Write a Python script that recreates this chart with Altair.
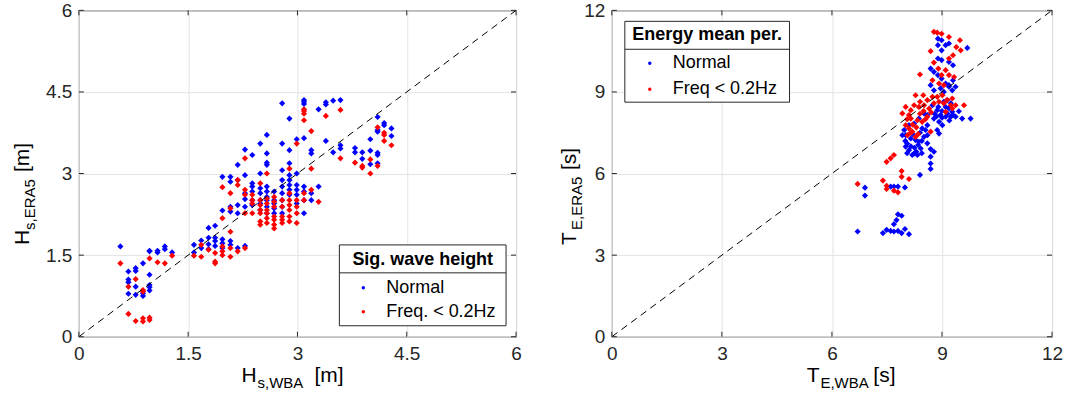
import altair as alt
import pandas as pd

# ---------------- data ----------------
# Left panel: significant wave height, (Hs WBA, Hs ERA5) [m]
hs_normal = [
    (0.57, 1.66), (0.68, 1.20), (0.68, 1.05), (0.68, 1.00), (0.68, 0.79), (0.78, 1.26), (0.78, 1.21),
    (0.78, 0.92), (0.78, 0.77), (0.88, 1.35), (0.88, 0.80), (0.88, 0.75), (0.97, 1.57), (0.97, 1.14),
    (0.97, 0.95), (0.97, 0.91), (0.97, 0.85), (1.08, 1.58), (1.08, 1.55), (1.18, 1.66), (1.18, 1.61),
    (1.28, 1.55), (0.97, 1.58),
    (1.58, 1.69), (1.58, 1.55), (1.68, 1.77), (1.68, 1.63), (1.78, 2.00), (1.78, 1.82), (1.78, 1.70),
    (1.78, 1.61), (1.87, 2.04), (1.87, 1.82), (1.87, 1.76), (1.87, 1.67), (1.97, 1.79), (1.97, 1.72),
    (1.97, 1.63), (2.08, 1.76), (2.08, 1.69), (2.18, 1.63), (2.28, 1.67),
    (1.97, 2.94), (1.97, 2.32), (2.08, 2.94), (2.08, 2.85), (2.08, 2.39), (2.08, 2.30), (2.18, 3.16),
    (2.18, 2.88), (2.18, 2.42), (2.18, 2.27), (2.28, 2.97), (2.28, 2.64), (2.28, 2.53), (2.28, 2.39),
    (2.38, 2.82), (2.38, 2.76), (2.38, 2.67), (2.38, 2.51), (2.38, 2.42), (2.49, 3.00), (2.49, 2.73),
    (2.49, 2.64), (2.49, 2.51), (2.49, 2.33), (2.58, 2.76), (2.58, 2.67), (2.58, 2.57), (2.58, 2.51),
    (2.58, 2.39), (2.58, 2.27), (2.68, 2.67), (2.68, 2.51), (2.68, 2.36), (2.68, 2.27), (2.79, 2.88),
    (2.79, 2.76), (2.79, 2.64), (2.79, 2.39), (2.79, 2.27), (2.89, 2.97), (2.89, 2.88), (2.89, 2.79),
    (2.89, 2.70), (2.89, 2.61), (2.99, 2.79), (2.99, 2.70), (2.99, 2.61), (2.99, 2.45), (3.09, 2.76),
    (3.09, 2.67), (3.09, 2.51), (3.09, 2.27), (3.19, 2.64), (3.19, 2.51), (3.29, 2.76),
    (2.49, 2.45), (2.68, 2.45), (2.79, 2.51),
    (2.28, 3.44), (2.38, 3.34), (2.49, 3.55), (2.58, 3.71), (2.58, 3.37), (2.58, 3.20), (2.58, 3.16),
    (2.79, 4.29), (2.79, 3.55), (2.79, 3.06), (2.89, 4.01), (2.89, 3.43), (2.89, 3.19), (2.99, 3.63),
    (2.99, 3.00), (3.09, 4.35), (3.09, 4.32), (3.09, 4.28), (3.09, 3.65), (3.19, 3.43), (3.19, 3.37),
    (3.29, 4.18), (3.39, 4.31), (3.39, 4.27), (3.39, 3.60), (3.49, 3.39), (3.49, 4.34), (3.59, 4.35),
    (3.59, 3.52), (3.59, 3.46),
    (3.79, 3.47), (3.79, 3.39), (3.89, 3.39), (3.89, 3.27), (4.00, 3.63), (4.00, 3.42), (4.00, 3.17),
    (4.10, 4.04), (4.10, 3.80), (4.10, 3.77), (4.10, 3.38), (4.10, 3.34), (4.10, 3.19), (4.19, 3.93),
    (4.19, 3.89), (4.29, 3.83), (4.29, 3.69),
]
hs_lowfreq = [
    (0.57, 1.35), (0.68, 0.92), (0.78, 1.06), (0.88, 0.86), (0.88, 0.83), (0.97, 1.44), (1.08, 1.37),
    (1.18, 1.35), (1.28, 1.49), (0.68, 0.42), (0.78, 0.29), (0.88, 0.34), (0.88, 0.28), (0.97, 0.35),
    (0.97, 0.31),
    (1.58, 1.49), (1.68, 1.69), (1.68, 1.47), (1.78, 1.60), (1.87, 1.54), (1.87, 1.38), (1.87, 1.35),
    (1.97, 1.66), (1.97, 1.57), (1.97, 1.50), (2.08, 1.93), (2.08, 1.63), (2.08, 1.47), (2.18, 1.57),
    (2.28, 1.63),
    (1.97, 2.75), (1.97, 2.18), (2.08, 2.64), (2.08, 2.36), (2.18, 2.88), (2.18, 2.79), (2.28, 2.70),
    (2.28, 2.61), (2.28, 2.27), (2.38, 2.61), (2.38, 2.51), (2.38, 2.27), (2.49, 2.82), (2.49, 2.51),
    (2.49, 2.42), (2.49, 2.33), (2.49, 2.12), (2.49, 2.06), (2.58, 2.54), (2.58, 2.45), (2.58, 2.33),
    (2.58, 2.18), (2.58, 2.09), (2.68, 2.57), (2.68, 2.48), (2.68, 2.39), (2.68, 2.15), (2.68, 2.06),
    (2.68, 1.99), (2.79, 2.51), (2.79, 2.39), (2.79, 2.21), (2.79, 2.09), (2.89, 2.64), (2.89, 2.51),
    (2.89, 2.42), (2.89, 2.33), (2.89, 2.12), (2.99, 2.51), (2.99, 2.39), (2.99, 2.27), (2.99, 2.09),
    (3.09, 2.64), (3.09, 2.51), (3.19, 2.70), (3.29, 2.48), (2.58, 3.00),
    (2.38, 2.45), (2.49, 2.27), (2.58, 2.27), (2.68, 2.21), (2.79, 2.15), (2.89, 2.21),
    (2.28, 3.28), (2.89, 3.09), (2.99, 3.55), (3.09, 4.18), (3.09, 4.15), (3.09, 4.10), (3.09, 3.98),
    (3.19, 3.78), (3.19, 3.09), (3.39, 4.06), (3.59, 4.17), (3.59, 3.28),
    (3.79, 3.20), (3.89, 3.14), (3.89, 3.11), (4.00, 3.26), (4.00, 3.00), (4.10, 3.85), (4.10, 3.14),
    (4.19, 3.75), (4.19, 3.71), (4.19, 3.60), (4.29, 3.52),
]

# Right panel: energy mean period, (TE WBA, TE ERA5) [s]
te_normal = [
    (6.70, 3.87), (7.39, 3.81), (7.49, 3.93), (7.60, 3.89), (7.69, 3.87), (7.80, 3.89), (7.90, 3.81),
    (7.99, 3.96), (8.10, 3.77), (7.69, 4.14), (7.76, 4.29), (7.80, 4.50), (7.90, 4.45),
    (6.90, 5.48), (6.90, 5.19), (7.60, 5.52), (7.69, 5.52), (7.80, 5.52), (7.99, 5.49), (8.40, 5.95),
    (8.69, 6.90), (8.69, 6.62), (8.69, 6.37), (8.69, 6.17), (8.78, 6.80),
    (8.89, 10.96), (8.99, 10.90), (8.89, 10.72), (8.99, 10.53), (9.10, 10.72), (9.19, 10.78),
    (8.89, 10.23), (8.99, 10.17), (9.19, 10.10), (9.30, 9.98), (8.69, 9.86), (8.78, 9.74), (8.89, 9.62),
    (8.99, 9.49), (9.10, 9.31), (9.19, 9.25), (9.30, 9.43), (9.37, 9.19), (9.69, 10.62),
    (8.69, 9.25), (8.78, 9.06), (8.96, 9.13), (9.05, 9.00), (9.19, 9.19), (9.28, 9.06), (8.74, 8.51),
    (8.87, 8.33), (8.96, 8.15), (9.10, 8.09), (9.24, 8.09), (9.37, 8.09), (9.55, 8.02), (9.78, 8.02),
    (8.92, 7.90), (9.01, 7.78), (8.87, 7.60), (8.92, 7.47), (8.51, 8.21), (8.60, 8.15), (8.37, 8.02),
    (8.24, 7.84), (8.10, 7.78), (8.01, 7.41), (8.15, 7.29), (8.28, 7.23), (8.37, 7.17), (8.51, 7.35),
    (8.60, 7.41), (8.01, 6.99), (8.10, 6.86), (8.24, 6.74), (8.33, 6.68), (8.19, 6.68), (8.42, 6.92),
    (8.60, 7.11), (7.92, 7.41), (7.97, 7.60), (8.46, 7.66), (8.60, 7.78), (8.78, 8.02), (9.19, 8.39),
    (9.28, 8.27), (9.46, 8.29), (9.05, 8.64), (9.14, 8.70), (9.24, 8.58), (9.10, 8.45),
    (8.05, 7.10), (8.15, 7.00), (8.25, 6.95), (8.35, 7.05), (8.45, 7.20), (8.05, 6.75), (8.30, 6.80),
    (8.45, 6.75), (8.20, 7.45), (8.40, 7.50), (8.55, 7.60), (8.00, 7.20), (8.80, 8.20), (8.90, 8.45),
    (9.00, 8.30), (9.15, 8.20), (9.30, 8.15), (9.00, 8.05), (8.85, 8.10), (9.20, 7.95),
]
te_lowfreq = [
    (6.70, 5.62), (7.39, 5.74), (7.49, 5.55), (7.49, 5.43), (7.69, 5.37), (7.80, 5.31), (7.90, 6.09),
    (7.90, 5.88), (8.10, 5.80), (7.49, 6.43), (7.60, 6.56), (7.69, 6.68),
    (8.78, 11.21), (8.87, 11.18), (8.99, 11.14), (9.19, 11.02), (9.49, 10.90), (9.39, 10.65),
    (9.51, 10.53), (9.30, 10.35), (9.19, 10.23), (8.69, 10.50), (8.78, 10.08), (8.90, 9.86),
    (9.10, 9.80), (8.99, 9.62), (8.40, 9.64), (9.19, 9.62), (9.33, 9.55), (8.74, 9.43), (8.92, 9.31),
    (9.05, 9.25),
    (8.28, 8.88), (8.40, 8.64), (8.49, 8.88), (8.60, 8.70), (8.74, 8.82), (8.87, 8.82), (9.01, 8.88),
    (9.14, 8.70), (9.28, 8.76), (7.92, 8.21), (8.01, 8.45), (8.15, 8.33), (8.24, 8.51), (8.37, 8.45),
    (8.51, 8.51), (8.65, 8.39), (8.78, 8.58), (8.92, 8.64), (9.05, 8.58), (9.24, 8.51), (9.37, 8.51),
    (9.60, 8.51), (8.01, 7.78), (8.10, 7.66), (8.19, 7.54), (8.28, 7.35), (8.06, 7.41), (8.15, 8.02),
    (8.33, 7.96), (8.46, 7.90), (8.60, 8.09), (8.69, 7.54), (9.10, 8.27), (9.28, 8.39),
    (8.05, 8.00), (8.20, 7.80), (8.30, 7.70), (8.40, 8.20), (8.50, 8.30), (8.15, 7.50), (8.35, 7.45),
    (8.55, 8.00), (8.70, 8.25), (8.10, 8.15),
]

hs_ticks = [0, 1.5, 3, 4.5, 6]
te_ticks = [0, 3, 6, 9, 12]
hs_legend = ["Normal", "Freq. < 0.2Hz"]
te_legend = ["Normal", "Freq < 0.2Hz"]
series_colors = ["#0000ff", "#ff0000"]

# ---------------- styling ----------------
H = 327
NARROW = "Liberation Sans Narrow, Arial Narrow, Liberation Sans, Arial"
REG = "Liberation Sans, Arial, Helvetica"
FRAME = "#262626"
GRID = "#e3e3e3"


def one():
    return pd.DataFrame({"k": [0]})


def txt(s, x, y, size, font=NARROW, align="left", angle=0, bold=False, baseline="alphabetic"):
    kw = dict(font=font, fontSize=size, align=align, baseline=baseline, color="black")
    if angle:
        kw["angle"] = angle
    if bold:
        kw["fontWeight"] = "bold"
    return alt.Chart(one()).mark_text(**kw).encode(
        x=alt.value(x), y=alt.value(y), text=alt.value(s))


def panel(normal, low, vmax, ticks, legend_labels, legend_title, lg, xt, yt, width):
    df = pd.DataFrame(
        [{"x": a, "y": b, "s": "Normal"} for a, b in normal]
        + [{"x": a, "y": b, "s": "Low"} for a, b in low])
    xs = alt.Scale(domain=[0, vmax], nice=False, zero=False)
    ys = alt.Scale(domain=[0, vmax], nice=False, zero=False)
    common = dict(values=ticks, title=None, grid=True, gridColor=GRID, ticks=False, domain=False,
                  labelFont=NARROW, labelFontSize=19, labelColor=FRAME, format="~g",
                  labelFlush=False, labelOverlap=False)
    xaxis = alt.Axis(labelPadding=8, **common)
    yaxis = alt.Axis(labelPadding=7, **common)

    base = alt.Chart(df).mark_point(filled=True, shape="diamond", size=38, opacity=1).encode(
        x=alt.X("x:Q", scale=xs, axis=xaxis),
        y=alt.Y("y:Q", scale=ys, axis=yaxis),
        color=alt.Color("s:N", scale=alt.Scale(domain=["Normal", "Low"], range=series_colors), legend=None),
        order=alt.Order("s:N", sort="descending"),
    )
    diag = alt.Chart(pd.DataFrame({"x": [0, vmax], "y": [0, vmax]})).mark_line(
        color="black", strokeDash=[7, 5], strokeWidth=1).encode(
        x=alt.X("x:Q", scale=xs), y=alt.Y("y:Q", scale=ys))

    tdf = pd.DataFrame({"v": ticks})
    tick_layers = [
        alt.Chart(tdf).mark_rule(color=FRAME).encode(x=alt.X("v:Q", scale=xs), y=alt.value(H), y2=alt.value(H - 5)),
        alt.Chart(tdf).mark_rule(color=FRAME).encode(x=alt.X("v:Q", scale=xs), y=alt.value(0), y2=alt.value(5)),
        alt.Chart(tdf).mark_rule(color=FRAME).encode(y=alt.Y("v:Q", scale=ys), x=alt.value(0), x2=alt.value(5)),
        alt.Chart(tdf).mark_rule(color=FRAME).encode(y=alt.Y("v:Q", scale=ys), x=alt.value(width), x2=alt.value(width - 5)),
    ]

    # legend box
    x0, x1, y0, ysep, y1, tyy, ny, fy, mx, lx = lg
    box = alt.Chart(one()).mark_rect(fill="white", stroke=FRAME, strokeWidth=1).encode(
        x=alt.value(x0), x2=alt.value(x1), y=alt.value(y0), y2=alt.value(y1))
    sep = alt.Chart(one()).mark_rule(color=FRAME, strokeWidth=1).encode(
        x=alt.value(x0), x2=alt.value(x1), y=alt.value(ysep))
    ltitle = txt(legend_title, (x0 + x1) / 2, tyy, 18, font=REG, align="center", bold=True, baseline="middle")
    ldots = [
        alt.Chart(one()).mark_circle(size=12, opacity=1, color=series_colors[i]).encode(
            x=alt.value(mx), y=alt.value(yy))
        for i, yy in enumerate([ny, fy])
    ]
    ltexts = [txt(legend_labels[i], lx, yy, 18, font=REG, baseline="middle") for i, yy in enumerate([ny, fy])]

    # axis titles with subscripts
    (xm, xsub, xunit), (xa, xb, xc) = xt
    (ym, ysub, yunit), (ya, yb, yc, yx) = yt
    titles = [
        txt(xm, xa, 372, 21, align="right"),
        txt(xsub, xa + 1, 378, 15),
        txt(xunit, xc, 372, 21),
        txt(ym, yx, ya, 21, angle=270),
        txt(ysub, yx + 6, yb, 15, angle=270),
        txt(yunit, yx, yc, 21, angle=270),
    ]

    layers = [base, diag] + tick_layers + [box, sep, ltitle] + ldots + ltexts + titles
    return alt.layer(*layers).properties(width=width, height=H)


left = panel(
    hs_normal, hs_lowfreq, 6, hs_ticks, hs_legend, "Sig. wave height",
    (261, 428, 235, 263, 316, 250, 278, 302, 285, 308),
    (("H", "s,WBA", "[m]"), (178, 0, 236)),
    (("H", "s,ERA5", "[m]"), (235, 220, 162, -50)),
    438,
)
right = panel(
    te_normal, te_lowfreq, 12, te_ticks, te_legend, "Energy mean per.",
    (13, 178, 11, 39, 92, 25, 53, 79, 38, 61),
    (("T", "E,WBA", "[s]"), (208, 0, 262)),
    (("T", "E,ERA5", "[s]"), (235, 220, 160, -36)),
    441,
)

chart = alt.hconcat(left, right, spacing=36).properties(
    padding={"left": 11, "top": 0, "right": 5, "bottom": 2},
    background="white",
).configure_view(stroke=FRAME, strokeWidth=1).configure_concat(spacing=36)

chart.save("out.html", embed_options={"renderer": "svg", "actions": False})
